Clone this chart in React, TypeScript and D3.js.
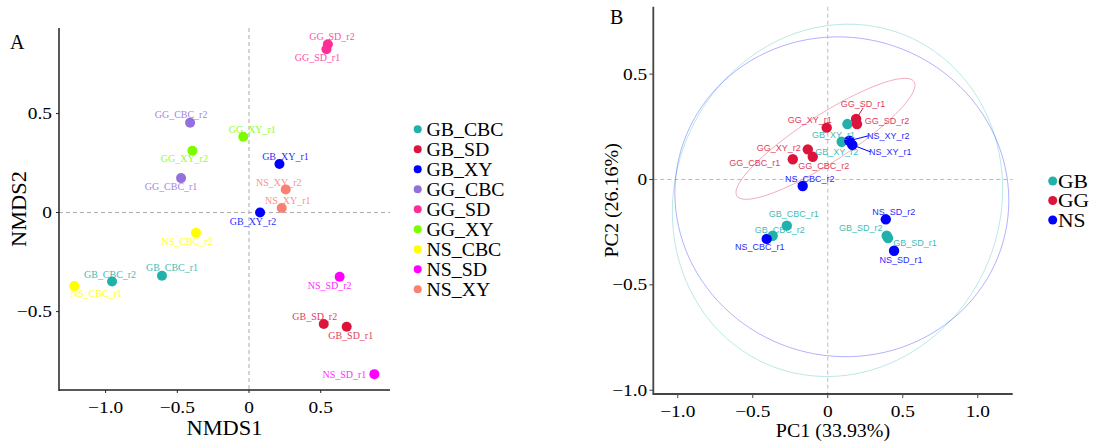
import React from "react";
import * as d3 from "d3";

// samples (same order in both panels)
const samples = [
  "GB_CBC_r1", "GB_CBC_r2", "GB_SD_r1", "GB_SD_r2", "GB_XY_r1", "GB_XY_r2",
  "GG_CBC_r1", "GG_CBC_r2", "GG_SD_r1", "GG_SD_r2", "GG_XY_r1", "GG_XY_r2",
  "NS_CBC_r1", "NS_CBC_r2", "NS_SD_r1", "NS_SD_r2", "NS_XY_r1", "NS_XY_r2",
];

// panel A: NMDS
const nmds1 = [-0.607, -0.955, 0.681, 0.521, 0.212, 0.077, -0.474, -0.411, 0.54, 0.55, -0.04, -0.395, -1.218, -0.37, 0.874, 0.632, 0.228, 0.256];
const nmds2 = [-0.319, -0.348, -0.577, -0.563, 0.245, 0.0, 0.174, 0.454, 0.825, 0.85, 0.383, 0.312, -0.371, -0.102, -0.816, -0.324, 0.023, 0.117];
const treatments = ["GB_CBC", "GB_SD", "GB_XY", "GG_CBC", "GG_SD", "GG_XY", "NS_CBC", "NS_SD", "NS_XY"];
const nmdsTicksX = [-1.0, -0.5, 0, 0.5];
const nmdsTicksY = [-0.5, 0, 0.5];

// panel B: PCA
const pc1 = [-0.273, -0.367, 0.402, 0.393, 0.131, 0.093, -0.233, -0.1, 0.189, 0.195, -0.007, -0.133, -0.407, -0.167, 0.442, 0.387, 0.164, 0.144];
const pc2 = [-0.219, -0.267, -0.278, -0.267, 0.263, 0.179, 0.096, 0.108, 0.287, 0.263, 0.246, 0.143, -0.282, -0.031, -0.338, -0.189, 0.164, 0.184];
const sites = ["GB", "GG", "NS"];
// ellipse per site: centre and covariance-like shape [cx, cy, sxx, sxy, syy]
const ellipseGB = [0.065, -0.099, 1.212, 0.06, 0.699];
const ellipseGG = [-0.015, 0.193, 0.356, 0.152, 0.0824];
const ellipseNS = [0.094, -0.082, 1.239, -0.02, 0.576];
const pcaTicksX = [-1.0, -0.5, 0, 0.5, 1.0];
const pcaTicksY = [-1.0, -0.5, 0, 0.5];

// colours
const treatColors = ["#20B2AA", "#DC143C", "#0000FF", "#9370DB", "#FF2E97", "#7CFC00", "#FFFF00", "#FF00FF", "#FA8072"];
const siteColors = ["#20B2AA", "#DC143C", "#0000FF"];

// label nudges (pixels) as placed by the repel step
const nudgeA = [[10, -8], [-2, -7], [4, 9], [-9, -7], [6, -7], [-7, 9], [-10, 8], [-9, -8], [-9, 8], [4, -8], [9, -7], [-8, 8], [22, 8], [-9, 9], [-30, 0], [-10, 9], [6, -7], [-7, -7]];
const nudgeB = [[7, -12], [7, -6], [27, 5], [-26, -8], [-14, 11], [-5, 10], [-38, 4], [11, 9], [7, -15], [30, -3], [-17, -8], [-29, -1], [-7, 8], [7, -7], [7, 9], [8, -7], [38, 7], [39, -5]];
const segB = ["GG_SD_r1", "NS_XY_r1", "NS_XY_r2"];

const serif = "'Liberation Serif', 'Times New Roman', serif";
const sans = "'Liberation Sans', Arial, sans-serif";

const fmt = (v: number) => (v === 0 ? "0" : d3.format(".1f")(v).replace("-", "\u2212"));

function T({ x, y, size, sx = 1, anchor = "middle", fill = "#000", rot = 0, font = serif, opacity = 1, children }: any) {
  return (
    <text
      transform={`translate(${x},${y}) rotate(${rot}) scale(${sx},1)`}
      fontFamily={font}
      fontSize={size}
      textAnchor={anchor}
      dominantBaseline="central"
      fill={fill}
      opacity={opacity}
    >
      {children}
    </text>
  );
}

function PanelA() {
  const x = d3.scaleLinear().domain([-1.325, 0.983]).range([59, 390]);
  const y = d3.scaleLinear().domain([-0.896, 0.932]).range([390, 28]);
  const [x0, x1] = x.range();
  const [y0, y1] = y.range();
  const group = (s: string) => treatments.indexOf(s.slice(0, s.lastIndexOf("_")));
  return (
    <g>
      <line x1={x(0)} x2={x(0)} y1={y1} y2={y0} stroke="#aaa" strokeDasharray="4,3" />
      <line x1={x0} x2={x1} y1={y(0)} y2={y(0)} stroke="#aaa" strokeDasharray="4,3" />
      <line x1={x0} x2={x0} y1={y1} y2={y0 + 1} stroke="#222" strokeWidth={1.5} />
      <line x1={x0} x2={x1} y1={y0} y2={y0} stroke="#222" strokeWidth={1.5} />
      {nmdsTicksX.map((t) => (
        <g key={t}>
          <line x1={x(t)} x2={x(t)} y1={y0} y2={y0 + 3} stroke="#222" />
          <T x={x(t)} y={y0 + 17} size={17} sx={1.14}>{fmt(t)}</T>
        </g>
      ))}
      {nmdsTicksY.map((t) => (
        <g key={t}>
          <line x1={x0 - 3} x2={x0} y1={y(t)} y2={y(t)} stroke="#222" />
          <T x={x0 - 7} y={y(t)} size={17} sx={1.14} anchor="end">{fmt(t)}</T>
        </g>
      ))}
      <T x={(x0 + x1) / 2} y={428} size={20} sx={1.12}>NMDS1</T>
      <T x={19} y={(y0 + y1) / 2} size={20} sx={1.12} rot={-90}>NMDS2</T>
      <T x={10} y={42} size={20} anchor="start">A</T>
      {samples.map((s, i) => (
        <circle key={s} cx={x(nmds1[i])} cy={y(nmds2[i])} r={5} fill={treatColors[group(s)]} />
      ))}
      {samples.map((s, i) => (
        <T key={s} x={x(nmds1[i]) + nudgeA[i][0]} y={y(nmds2[i]) + nudgeA[i][1]} size={9.5} sx={1.05}
          fill={treatColors[group(s)]} opacity={0.85}>{s}</T>
      ))}
      {treatments.map((g, i) => (
        <g key={g}>
          <circle cx={417.7} cy={129.3 + i * 20} r={4} fill={treatColors[i]} />
          <T x={426.5} y={129.8 + i * 20} size={18} sx={1.1} anchor="start">{g}</T>
        </g>
      ))}
    </g>
  );
}

function ellipsePath(e: number[], x: any, y: any) {
  const [cx, cy, sxx, sxy, syy] = e;
  const l11 = Math.sqrt(sxx);
  const l21 = sxy / l11;
  const l22 = Math.sqrt(syy - l21 * l21);
  const pts = d3.range(0, 361, 3).map((deg) => {
    const t = (deg * Math.PI) / 180;
    return [cx + l11 * Math.cos(t), cy + l21 * Math.cos(t) + l22 * Math.sin(t)];
  });
  return d3.line().x((d: any) => x(d[0])).y((d: any) => y(d[1]))(pts as any) || "";
}

function PanelB() {
  const x = d3.scaleLinear().domain([-1.163, 1.233]).range([653.3, 1012.7]);
  const y = d3.scaleLinear().domain([-1.018, 0.82]).range([394, 6.7]);
  const [x0, x1] = x.range();
  const [y0, y1] = y.range();
  const site = (s: string) => sites.indexOf(s.slice(0, 2));
  const ellipses = [ellipseGB, ellipseGG, ellipseNS];
  return (
    <g>
      {ellipses.map((e, i) => (
        <path key={i} d={ellipsePath(e, x, y)} fill="none" stroke={siteColors[i]} strokeOpacity={i === 1 ? 0.35 : 0.3} strokeWidth={1} />
      ))}
      <line x1={x(0)} x2={x(0)} y1={y1} y2={y0} stroke="#aaa" strokeDasharray="4,3" strokeWidth={0.8} />
      <line x1={x0} x2={x1} y1={y(0)} y2={y(0)} stroke="#aaa" strokeDasharray="4,3" strokeWidth={0.8} />
      <line x1={x0} x2={x0} y1={y1} y2={y0 + 1} stroke="#444" strokeWidth={1.8} />
      <line x1={x0} x2={x1} y1={y0} y2={y0} stroke="#444" strokeWidth={1.8} />
      {pcaTicksX.map((t) => (
        <g key={t}>
          <line x1={x(t)} x2={x(t)} y1={y0} y2={y0 + 4} stroke="#444" />
          <T x={x(t)} y={y0 + 17} size={17} sx={1.14}>{fmt(t)}</T>
        </g>
      ))}
      {pcaTicksY.map((t) => (
        <g key={t}>
          <line x1={x0 - 4} x2={x0} y1={y(t)} y2={y(t)} stroke="#444" />
          <T x={x0 - 6} y={y(t)} size={17} sx={1.14} anchor="end">{fmt(t)}</T>
        </g>
      ))}
      <T x={(x0 + x1) / 2} y={431} size={18.5} sx={1.08}>PC1 (33.93%)</T>
      <T x={612} y={(y0 + y1) / 2} size={18.5} sx={1.08} rot={-90}>PC2 (26.16%)</T>
      <T x={610} y={17} size={20} anchor="start">B</T>
      {samples.map((s, i) => {
        if (!segB.includes(s)) return null;
        const px = x(pc1[i]);
        const py = y(pc2[i]);
        const [dx, dy] = nudgeB[i];
        const half = s.length * 2.45;
        const ex = Math.abs(dx) > Math.abs(dy) * 2 ? px + dx - Math.sign(dx) * half : px + dx;
        const ey = Math.abs(dx) > Math.abs(dy) * 2 ? py + dy : py + dy - Math.sign(dy) * 4;
        return <line key={s} x1={px} y1={py} x2={ex} y2={ey} stroke={siteColors[site(s)]} strokeWidth={1} />;
      })}
      {samples.map((s, i) => (
        <circle key={s} cx={x(pc1[i])} cy={y(pc2[i])} r={5.2} fill={siteColors[site(s)]} />
      ))}
      {samples.map((s, i) => (
        <T key={s} x={x(pc1[i]) + nudgeB[i][0]} y={y(pc2[i]) + nudgeB[i][1]} size={9} font={sans}
          fill={siteColors[site(s)]} opacity={0.85}>{s}</T>
      ))}
      {sites.map((g, i) => (
        <g key={g}>
          <circle cx={1052.7} cy={181 + i * 19.5} r={4.5} fill={siteColors[i]} />
          <T x={1058} y={181.5 + i * 19.5} size={18} sx={1.2} anchor="start">{g}</T>
        </g>
      ))}
    </g>
  );
}

export default function App() {
  return (
    <svg width={1096} height={444} style={{ position: "absolute", left: 0, top: 0, background: "#fff" }}>
      <PanelA />
      <PanelB />
    </svg>
  );
}
